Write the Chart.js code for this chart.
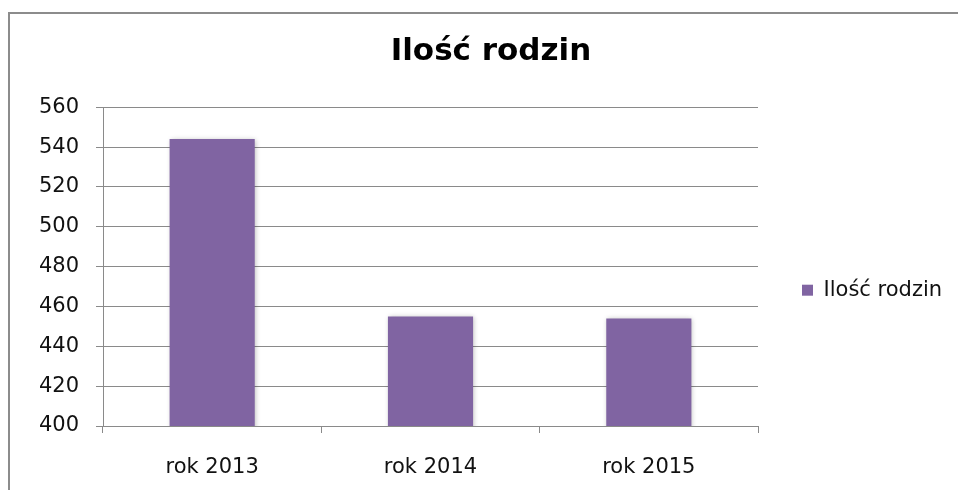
<!DOCTYPE html>
<html>
<head>
<meta charset="utf-8">
<script src="https://cdn.jsdelivr.net/npm/chart.js@4"></script>
<style>
  html, body { margin: 0; padding: 0; background: #fff; overflow: hidden; }
  #frame { position: absolute; left: 8px; top: 12px; width: 1200px; height: 900px; border: 2px solid #8c8c8c; }
  #wrap { position: absolute; left: 0; top: 0; width: 958px; height: 490px; }
</style>
</head>
<body>
<div id="frame"></div>
<div id="wrap"><canvas id="chart" width="958" height="490"></canvas></div>
<script>
const years = ["rok 2013", "rok 2014", "rok 2015"];
const families = [544, 455, 454];
const yTicks = [400, 420, 440, 460, 480, 500, 520, 540, 560];
const seriesName = "Ilość rodzin";
const chartTitle = "Ilość rodzin";

const gridGray = "#8a8a8a";

// soft shadow behind the bars, like the spreadsheet export
const barShadow = {
  id: "barShadow",
  beforeDatasetsDraw(chart) {
    const ctx = chart.ctx;
    ctx.save();
    ctx.shadowColor = "rgba(0,0,0,0.28)";
    ctx.shadowBlur = 5;
    ctx.shadowOffsetX = 1;
    ctx.shadowOffsetY = 1;
  },
  afterDatasetsDraw(chart) {
    chart.ctx.restore();
  }
};

const ctx = document.getElementById("chart").getContext("2d");
const chart = new Chart(ctx, {
  type: "bar",
  data: {
    labels: years,
    datasets: [{
      label: seriesName,
      data: families,
      backgroundColor: "#8064A2",
      borderWidth: 0,
      barPercentage: 0.39,
      categoryPercentage: 1
    }]
  },
  options: {
    responsive: false,
    animation: false,
    layout: { padding: { left: 38, right: 14, top: 0, bottom: 0 } },
    plugins: {
      title: {
        display: true,
        text: chartTitle,
        color: "#000",
        font: { family: "DejaVu Sans", size: 31, weight: "bold" },
        padding: { top: 33, bottom: 37 }
      },
      legend: {
        position: "right",
        maxWidth: 186,
        title: { display: true, text: "", padding: { top: 76, bottom: 0 } },
        labels: {
          boxWidth: 11,
          boxHeight: 11,
          padding: 44,
          color: "#111",
          font: { family: "DejaVu Sans", size: 21 }
        }
      },
      tooltip: { enabled: false }
    },
    scales: {
      x: {
        afterFit(scale) { scale.height = 64; },
        grid: {
          drawOnChartArea: false,
          drawTicks: true,
          tickLength: 7,
          color: gridGray
        },
        border: { color: gridGray, width: 1 },
        ticks: {
          padding: 22,
          color: "#111",
          font: { family: "DejaVu Sans", size: 21 }
        }
      },
      y: {
        min: yTicks[0],
        max: yTicks[yTicks.length - 1],
        afterFit(scale) { scale.width = 65; },
        afterBuildTicks(scale) {
          scale.ticks = yTicks.map(v => ({ value: v }));
        },
        grid: {
          color: gridGray,
          tickLength: 7,
          lineWidth: 1
        },
        border: { color: gridGray, width: 1 },
        ticks: {
          padding: 17,
          color: "#111",
          font: { family: "DejaVu Sans", size: 21 }
        }
      }
    }
  },
  plugins: [barShadow]
});
</script>
</body>
</html>
